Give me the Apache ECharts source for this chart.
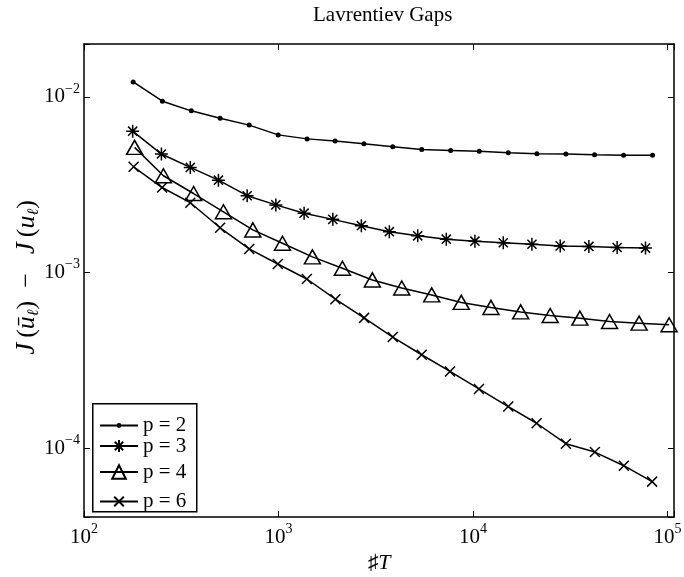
<!DOCTYPE html>
<html>
<head>
<meta charset="utf-8">
<script src="https://cdn.jsdelivr.net/npm/echarts@6/dist/echarts.min.js"></script>
<style>
  html, body { margin: 0; padding: 0; background: #fff; }
  #main { width: 684px; height: 577px; }
</style>
</head>
<body>
<div id="main"></div>
<script>
// values
var xP2 = [179, 253, 356, 501, 707, 996, 1403, 1954, 2748, 3867, 5450, 7678, 10770, 15180, 21310, 30030, 42170, 59430, 83750];
var yP2 = [0.01217, 0.00945, 0.00833, 0.00757, 0.00691, 0.00608, 0.00577, 0.00562, 0.00541, 0.00520, 0.00502, 0.00496, 0.00490, 0.00481, 0.00475, 0.00473, 0.00468, 0.00466, 0.00465];

var xP3 = [178, 250, 352, 491, 690, 969, 1354, 1902, 2667, 3715, 5197, 7289, 10230, 14310, 20090, 28080, 39420, 55100, 77090];
var yP3 = [0.00638, 0.00473, 0.00397, 0.00336, 0.00274, 0.00243, 0.00218, 0.00201, 0.00185, 0.00171, 0.00162, 0.00155, 0.00151, 0.00148, 0.00145, 0.00142, 0.00141, 0.00139, 0.00138];

var xP4 = [182, 256, 366, 521, 738, 1048, 1494, 2130, 3038, 4301, 6132, 8703, 12370, 17580, 24940, 35440, 50350, 71450, 101900];
var yP4 = [0.00516, 0.00356, 0.00282, 0.00222, 0.00175, 0.00147, 0.00123, 0.00106, 0.000909, 0.000818, 0.000747, 0.000677, 0.000634, 0.000598, 0.000570, 0.000551, 0.000527, 0.000516, 0.000505];

var xP6 = [180, 252, 352, 501, 707, 992, 1398, 1961, 2754, 3867, 5450, 7615, 10730, 15180, 21230, 30030, 42320, 59640, 83350];
var yP6 = [0.00400, 0.00305, 0.00250, 0.00180, 0.001364, 0.00112, 0.000920, 0.000706, 0.000553, 0.000430, 0.000341, 0.000274, 0.000218, 0.000173, 0.000139, 0.0001063, 0.0000953, 0.0000797, 0.0000647];

var names = ['p = 2', 'p = 3', 'p = 4', 'p = 6'];

var serif = '"Liberation Serif", "Times New Roman", "DejaVu Serif", serif';
var starPath = 'path://M0,-10L0,10M-10,0L10,0M-7,-7L7,7M-7,7L7,-7';
var crossPath = 'path://M-10,-10L10,10M-10,10L10,-10';

function pairs(xs, ys) {
    return xs.map(function (x, i) { return [x, ys[i]]; });
}

// only powers of ten get a label, written as 10 with a raised exponent
function powLabel(v) {
    var e = Math.round(Math.log(v) / Math.LN10);
    if (Math.abs(v - Math.pow(10, e)) / Math.pow(10, e) > 1e-6) return '';
    return '{b|10}{s|' + (e < 0 ? '\u2212' + (-e) : e) + '}';
}
var labelRich = {
    b: { fontSize: 21, fontFamily: serif, color: '#000', lineHeight: 30 },
    s: { fontSize: 14, fontFamily: serif, color: '#000', lineHeight: 14, verticalAlign: 'top' }
};

var myChart = echarts.init(document.getElementById('main'));

function legendAt(name, top, h) {
    return {
        data: [name],
        orient: 'vertical',
        left: 99,
        top: top - h / 2,
        padding: 0,
        itemWidth: 38,
        itemHeight: h,
        textStyle: { fontSize: 21, fontFamily: serif, color: '#000', lineHeight: 20 }
    };
}

var axisLine = { show: true, onZero: false, lineStyle: { color: '#000', width: 1.5 } };
var axisTick = { show: true, inside: true, length: 6, lineStyle: { color: '#000', width: 1 } };

option = {
    animation: false,
    backgroundColor: '#fff',
    title: {
        text: 'Lavrentiev Gaps',
        left: 308,
        top: 0,
        textStyle: { fontSize: 21, fontWeight: 'normal', fontFamily: serif, color: '#000' }
    },
    grid: { left: 84, right: 10, top: 44, bottom: 60, containLabel: false, outerBoundsMode: 'none' },
    legend: [
        legendAt(names[0], 418, 6),
        legendAt(names[1], 443, 15),
        legendAt(names[2], 470, 17),
        legendAt(names[3], 497, 12)
    ],
    graphic: [{
        type: 'rect',
        left: 92, top: 403, z: 3,
        shape: { width: 104, height: 108 },
        style: { fill: '#fff', stroke: '#000', lineWidth: 1.5 }
    }],
    xAxis: [
        {
            type: 'log', logBase: 10, min: 100, max: 108000,
            position: 'bottom',
            axisLine: axisLine, axisTick: axisTick,
            splitLine: { show: false }, minorTick: { show: false },
            axisLabel: { formatter: powLabel, rich: labelRich, margin: 5 },
            name: '{n|\u266F}{i|T}',
            nameLocation: 'middle',
            nameGap: 35,
            nameMoveOverlap: false,
            nameTextStyle: {
                rich: {
                    n: { fontSize: 21, fontFamily: serif, color: '#000' },
                    i: { fontSize: 22, fontFamily: serif, fontStyle: 'italic', color: '#000' }
                }
            }
        },
        {
            type: 'log', logBase: 10, min: 100, max: 108000,
            position: 'top',
            axisLine: axisLine, axisTick: axisTick,
            splitLine: { show: false }, minorTick: { show: false },
            axisLabel: { show: false }
        }
    ],
    yAxis: [
        {
            type: 'log', logBase: 10, min: 4.07e-5, max: 0.02,
            position: 'left',
            axisLine: axisLine, axisTick: axisTick,
            splitLine: { show: false }, minorTick: { show: false },
            axisLabel: { formatter: powLabel, rich: labelRich, margin: 4 },
            name: '{j|J}{n|(}{i|\u016B}{sub|\u2113}{n|)  \u2212  }{j|J}{n|(}{i|u}{sub|\u2113}{n|)}',
            nameLocation: 'middle',
            nameRotate: 90,
            nameGap: 42,
            nameMoveOverlap: false,
            nameTextStyle: {
                rich: {
                    j: { fontSize: 27, fontFamily: serif, fontStyle: 'italic', color: '#000', lineHeight: 30, padding: [0, 5, 0, 6] },
                    i: { fontSize: 26, fontFamily: serif, fontStyle: 'italic', color: '#000', lineHeight: 30 },
                    n: { fontSize: 26, fontFamily: serif, color: '#000', lineHeight: 30 },
                    sub: { fontSize: 16, fontFamily: serif, fontStyle: 'italic', color: '#000', lineHeight: 17, verticalAlign: 'bottom' }
                }
            }
        },
        {
            type: 'log', logBase: 10, min: 4.07e-5, max: 0.02,
            position: 'right',
            axisLine: axisLine, axisTick: axisTick,
            splitLine: { show: false }, minorTick: { show: false },
            axisLabel: { show: false }
        }
    ],
    series: [
        {
            name: names[0], type: 'line', data: pairs(xP2, yP2),
            symbol: 'circle', symbolSize: 5,
            lineStyle: { color: '#000', width: 1.5 },
            itemStyle: { color: '#000' }
        },
        {
            name: names[1], type: 'line', data: pairs(xP3, yP3),
            symbol: starPath, symbolSize: 13,
            lineStyle: { color: '#000', width: 1.5 },
            itemStyle: { color: '#000', borderColor: '#000', borderWidth: 1.5 }
        },
        {
            name: names[2], type: 'line', data: pairs(xP4, yP4),
            symbol: 'triangle', symbolSize: [16, 14],
            lineStyle: { color: '#000', width: 1.5 },
            itemStyle: { color: 'rgba(0,0,0,0)', borderColor: '#000', borderWidth: 1.5 }
        },
        {
            name: names[3], type: 'line', data: pairs(xP6, yP6),
            symbol: crossPath, symbolSize: 10,
            lineStyle: { color: '#000', width: 1.5 },
            itemStyle: { color: '#000', borderColor: '#000', borderWidth: 1.5 }
        }
    ]
};

myChart.setOption(option);
window.addEventListener('resize', function () {
    myChart.resize();
});
</script>
</body>
</html>
